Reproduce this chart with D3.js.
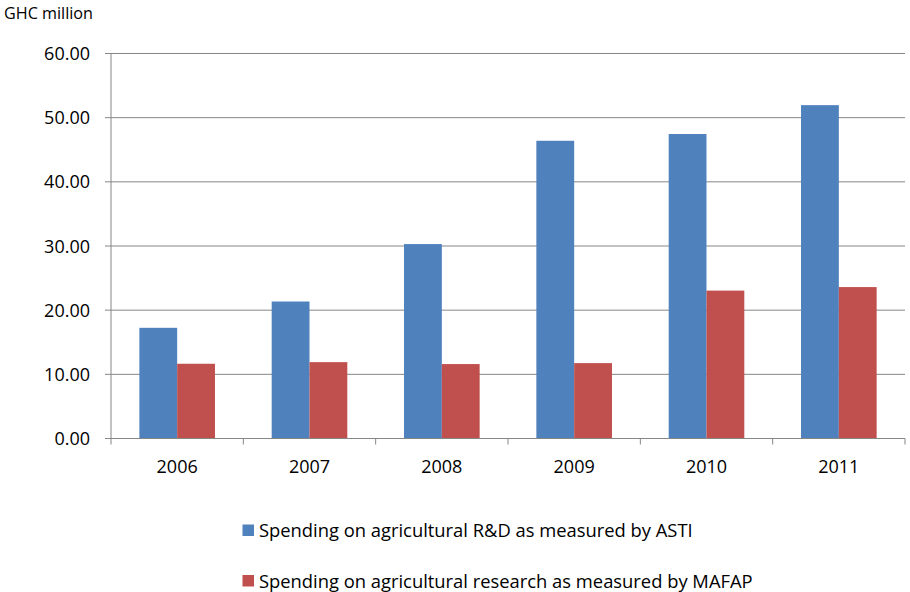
<!DOCTYPE html>
<html><head><meta charset="utf-8">
<script src="https://cdn.jsdelivr.net/npm/d3@7"></script>
<style>body{margin:0;background:#fff}svg{display:block;font-family:"Open Sans","Noto Sans",sans-serif}</style>
</head><body>
<script>
const years = ["2006","2007","2008","2009","2010","2011"];
const astiValues = [17.25, 21.35, 30.3, 46.4, 47.45, 51.95];
const mafapValues = [11.65, 11.9, 11.6, 11.75, 23.05, 23.6];
const seriesNames = ["Spending on agricultural R&D as measured by ASTI","Spending on agricultural research as measured by MAFAP"];
const seriesColors = ["#4F81BD","#C0504D"];
const yTicks = [0,10,20,30,40,50,60];
const unitLabel = "GHC million";

(function(){
const W=910,H=592;
const svg=d3.select("body").append("svg").attr("width",W).attr("height",H);
const pL=111,pR=905,pT=53.5,pB=438.5;
const x=d3.scaleBand().domain(years).range([pL,pR]);
const y=d3.scaleLinear().domain([0,60]).range([pB,pT]);
const inner=d3.scaleBand().domain([0,1]).range([0,x.bandwidth()]).paddingOuter(0.75).paddingInner(0);

function fit(sel,target){
  const n=sel.node(); const s=parseFloat(sel.attr("font-size"));
  const w=n.getComputedTextLength(); if(w>0) sel.attr("font-size",(s*target/w).toFixed(2));
}

svg.append("g").selectAll("line").data(yTicks).join("line")
 .attr("x1",pL-6).attr("x2",pR).attr("y1",d=>y(d)).attr("y2",d=>y(d))
 .attr("stroke","#868686").attr("stroke-width",1);

svg.append("g").selectAll("text").data(yTicks).join("text")
 .attr("x",90).attr("y",d=>y(d)+6.5).attr("text-anchor","end")
 .attr("font-size",18).attr("fill","#000").text(d=>d.toFixed(2));

const series=[astiValues,mafapValues];
series.forEach((vals,si)=>{
 svg.append("g").selectAll("rect").data(vals).join("rect")
  .attr("x",(d,i)=>x(years[i])+inner(si)).attr("width",inner.bandwidth())
  .attr("y",d=>y(d)).attr("height",d=>pB-y(d))
  .attr("fill",seriesColors[si]);
});

svg.append("line").attr("x1",pL).attr("x2",pL).attr("y1",pT).attr("y2",pB).attr("stroke","#868686");
svg.append("line").attr("x1",pL).attr("x2",pR).attr("y1",pB).attr("y2",pB).attr("stroke","#868686");
const bounds=years.map(d=>x(d)).concat([pR]);
svg.append("g").selectAll("line").data(bounds).join("line")
 .attr("x1",d=>d).attr("x2",d=>d).attr("y1",pB).attr("y2",pB+6).attr("stroke","#868686");

svg.append("g").selectAll("text").data(years).join("text")
 .attr("x",d=>x(d)+x.bandwidth()/2).attr("y",473).attr("text-anchor","middle")
 .attr("font-size",18).attr("fill","#000").text(d=>d);

const u=svg.append("text").attr("x",4).attr("y",18.5).attr("font-size",14).attr("fill","#000").text(unitLabel);
fit(u,89);

const lg=svg.append("g").selectAll("g").data(seriesNames).join("g")
 .attr("transform",(d,i)=>`translate(242.5,${524.5+i*50.5})`);
lg.append("rect").attr("width",11.5).attr("height",11.5).attr("fill",(d,i)=>seriesColors[i]);
const lt=lg.append("text").attr("x",16.5).attr("y",12.5).attr("font-size",17).attr("fill","#000").text(d=>d);
const t0=d3.select(lt.nodes()[0]);
fit(t0,434);
lt.attr("font-size",t0.attr("font-size"));
})();
</script>
</body></html>
